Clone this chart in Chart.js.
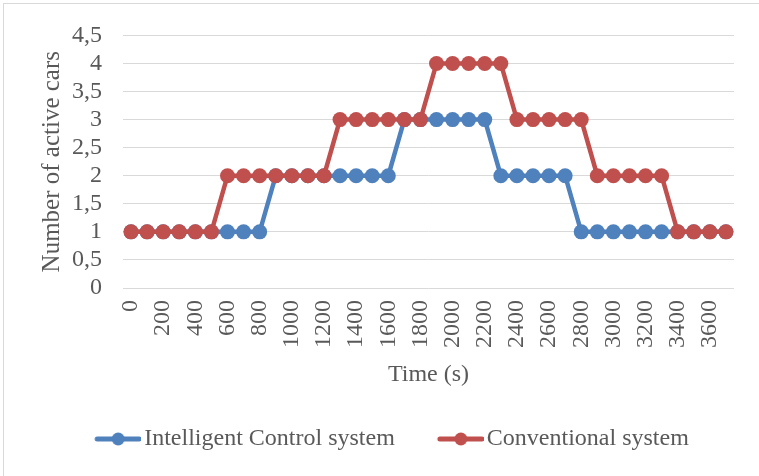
<!DOCTYPE html>
<html>
<head>
<meta charset="utf-8">
<script src="https://cdn.jsdelivr.net/npm/chart.js@4/dist/chart.umd.min.js"></script>
<style>
  html, body { margin: 0; padding: 0; background: #ffffff; }
  #wrap { width: 759px; height: 476px; }
</style>
</head>
<body>
<div id="wrap"><canvas id="carsChart" width="759" height="476"></canvas></div>
<script>
// dados
const timeLabels = ['0', '100', '200', '300', '400', '500', '600', '700', '800', '900',
  '1000', '1100', '1200', '1300', '1400', '1500', '1600', '1700', '1800', '1900',
  '2000', '2100', '2200', '2300', '2400', '2500', '2600', '2700', '2800', '2900',
  '3000', '3100', '3200', '3300', '3400', '3500', '3600', '3700'];

const intelligentCars = [1, 1, 1, 1, 1, 1, 1, 1, 1, 2,
  2, 2, 2, 2, 2, 2, 2, 3, 3, 3,
  3, 3, 3, 2, 2, 2, 2, 2, 1, 1,
  1, 1, 1, 1, 1, 1, 1, 1];

const conventionalCars = [1, 1, 1, 1, 1, 1, 2, 2, 2, 2,
  2, 2, 2, 3, 3, 3, 3, 3, 3, 4,
  4, 4, 4, 4, 3, 3, 3, 3, 3, 2,
  2, 2, 2, 2, 1, 1, 1, 1];

const seriesNames = ['Intelligent Control system', 'Conventional system'];
const yTickLabels = ['0', '0,5', '1', '1,5', '2', '2,5', '3', '3,5', '4', '4,5'];

const blue = '#4f81bd';
const red = '#c0504d';
const textColor = '#595959';
const serif = "'Liberation Serif', 'Times New Roman', serif";

// símbolo da legenda: linha com círculo no meio
function legendMarker(color) {
  const c = document.createElement('canvas');
  c.width = 88;
  c.height = 16;
  const g = c.getContext('2d');
  g.strokeStyle = color;
  g.lineWidth = 5;
  g.lineCap = 'round';
  g.beginPath();
  g.moveTo(44, 8);
  g.lineTo(86, 8);
  g.stroke();
  g.fillStyle = color;
  g.beginPath();
  g.arc(65, 8, 6.5, 0, Math.PI * 2);
  g.fill();
  return c;
}

// moldura cinza do gráfico
const frame = {
  id: 'frame',
  beforeDraw(chart) {
    const ctx = chart.ctx;
    ctx.save();
    ctx.strokeStyle = '#d9d9d9';
    ctx.lineWidth = 1;
    ctx.strokeRect(3.5, 3.5, 820, 520);
    ctx.restore();
  }
};

const carsChart = new Chart(document.getElementById('carsChart').getContext('2d'), {
  type: 'line',
  data: {
    labels: timeLabels,
    datasets: [
      {
        label: seriesNames[0],
        data: intelligentCars,
        borderColor: blue,
        backgroundColor: blue,
        borderWidth: 4.5,
        pointRadius: 7.5,
        pointBorderWidth: 0,
        pointBackgroundColor: blue,
        order: 1,
        fill: false
      },
      {
        label: seriesNames[1],
        data: conventionalCars,
        borderColor: red,
        backgroundColor: red,
        borderWidth: 4.5,
        pointRadius: 7.5,
        pointBorderWidth: 0,
        pointBackgroundColor: red,
        order: 0,
        fill: false
      }
    ]
  },
  options: {
    responsive: false,
    animation: false,
    layout: {
      padding: { top: 35, left: 13, right: 21, bottom: 15 }
    },
    scales: {
      x: {
        type: 'category',
        offset: true,
        grid: { display: false },
        border: { display: false },
        ticks: {
          autoSkip: false,
          maxRotation: 90,
          minRotation: 90,
          padding: 4,
          color: textColor,
          font: { family: serif, size: 24 },
          callback: function (value, index) {
            return index % 2 === 0 ? timeLabels[index] : '';
          }
        },
        title: {
          display: true,
          text: 'Time (s)',
          color: textColor,
          font: { family: serif, size: 24 },
          padding: { top: 0, bottom: 28 }
        },
        afterFit: function (scale) {
          scale.height = 129;
        }
      },
      y: {
        min: 0,
        max: 4.5,
        grid: {
          color: '#d9d9d9',
          lineWidth: 1,
          drawTicks: false
        },
        border: { display: false },
        ticks: {
          stepSize: 0.5,
          autoSkip: false,
          padding: 21,
          color: textColor,
          font: { family: serif, size: 24 },
          callback: function (value) {
            return yTickLabels[Math.round(value * 2)];
          }
        },
        title: {
          display: true,
          text: 'Number of active cars',
          color: textColor,
          font: { family: serif, size: 25 },
          padding: { top: 24, bottom: 4 }
        },
        afterFit: function (scale) {
          scale.width = 110;
        }
      }
    },
    plugins: {
      tooltip: { enabled: false },
      legend: {
        position: 'bottom',
        labels: {
          usePointStyle: true,
          pointStyleWidth: 70,
          padding: 10,
          color: textColor,
          font: { family: serif, size: 24 },
          generateLabels: function (chart) {
            return chart.data.datasets.map((ds, i) => ({
              text: ds.label,
              pointStyle: legendMarker(ds.borderColor),
              fillStyle: ds.borderColor,
              strokeStyle: ds.borderColor,
              lineWidth: 0,
              fontColor: textColor,
              hidden: false,
              datasetIndex: i
            }));
          }
        }
      }
    }
  },
  plugins: [frame]
});
</script>
</body>
</html>
